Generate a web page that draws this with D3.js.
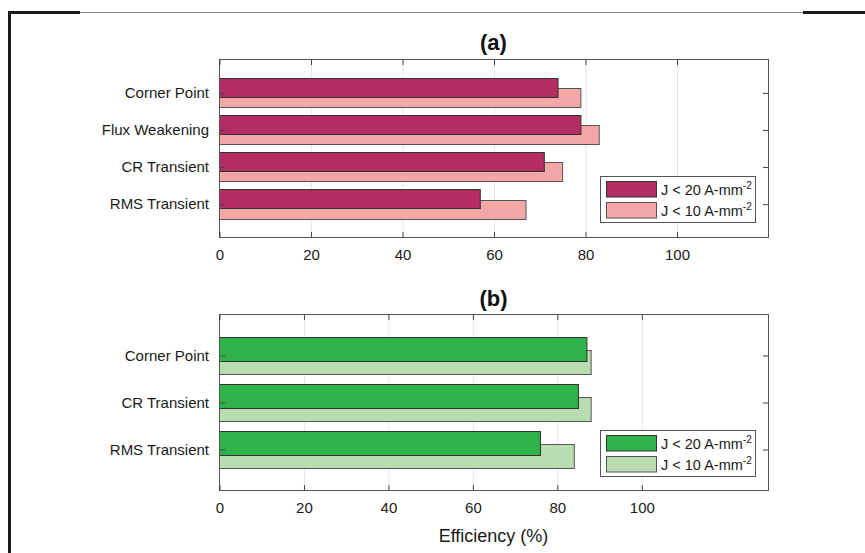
<!DOCTYPE html>
<html>
<head>
<meta charset="utf-8">
<script src="https://cdn.jsdelivr.net/npm/d3@7"></script>
<style>
  html, body { margin: 0; padding: 0; background: #fff; }
  svg { display: block; font-family: "Liberation Sans", Arial, sans-serif; }
</style>
</head>
<body>
<svg id="fig" width="865" height="553"></svg>
<script>
// Panel (a): four operating cases
const categoriesA = ["Corner Point", "Flux Weakening", "CR Transient", "RMS Transient"];
const j20ValuesA = [74, 79, 71, 57];
const j10ValuesA = [79, 83, 75, 67];

// Panel (b): three operating cases
const categoriesB = ["Corner Point", "CR Transient", "RMS Transient"];
const j20ValuesB = [87, 85, 76];
const j10ValuesB = [88, 88, 84];

const xTickValues = [0, 20, 40, 60, 80, 100];
const seriesLabels = ["J < 20 A-mm", "J < 10 A-mm"];
const seriesExponent = "-2";
const panelTitles = ["(a)", "(b)"];
const xAxisTitle = "Efficiency (%)";

const svg = d3.select("#fig");
svg.append("rect").attr("width", 865).attr("height", 553).attr("fill", "#fff");

// page frame lines
const frame = svg.append("g");
frame.append("line").attr("x1", 80).attr("x2", 803).attr("y1", 12.5).attr("y2", 12.5)
  .attr("stroke", "#8a8a8a").attr("stroke-width", 1);
frame.append("line").attr("x1", 8).attr("x2", 80).attr("y1", 12.5).attr("y2", 12.5)
  .attr("stroke", "#1a1a1a").attr("stroke-width", 3);
frame.append("line").attr("x1", 803).attr("x2", 865).attr("y1", 12.5).attr("y2", 12.5)
  .attr("stroke", "#1a1a1a").attr("stroke-width", 3);
frame.append("line").attr("x1", 9.5).attr("x2", 9.5).attr("y1", 11).attr("y2", 553)
  .attr("stroke", "#1a1a1a").attr("stroke-width", 3);

function drawPanel(opts) {
  const { categories, j20, j10, xMax, top, bottom, yPad, title, titleY, colors, legendTop } = opts;
  const left = 219, right = 768;
  const n = categories.length;
  const x = d3.scaleLinear().domain([0, xMax]).range([left, right]);
  const y = d3.scaleLinear().domain([-yPad, n - 1 + yPad]).range([top, bottom]);
  const idx = d3.range(n);
  const g = svg.append("g");
  const h = bottom - top;

  // gridlines
  g.append("g")
    .attr("transform", `translate(0.5,${bottom})`)
    .call(d3.axisBottom(x).tickValues(xTickValues.slice(1)).tickSizeInner(-h).tickSizeOuter(0).tickFormat(""))
    .call(a => a.select(".domain").remove())
    .call(a => a.selectAll("line").attr("stroke", "#e6e6e6"));

  // bars: lower-current series behind, higher-current series in front
  const bh = y(0.5) - y(0);
  const off = 0.14;
  g.append("g").selectAll("rect").data(idx).join("rect")
    .attr("x", x(0) + 0.5)
    .attr("y", i => Math.round(y(i + off) - bh / 2) + 0.5)
    .attr("width", i => x(j10[i]) - x(0))
    .attr("height", Math.round(bh))
    .attr("fill", colors[1]).attr("stroke", "#555").attr("stroke-width", 1);
  g.append("g").selectAll("rect").data(idx).join("rect")
    .attr("x", x(0) + 0.5)
    .attr("y", i => Math.round(y(i - off) - bh / 2) + 0.5)
    .attr("width", i => x(j20[i]) - x(0))
    .attr("height", Math.round(bh))
    .attr("fill", colors[0]).attr("stroke", "#333").attr("stroke-width", 1);

  // axes box
  g.append("rect").attr("x", left + 0.5).attr("y", top + 0.5)
    .attr("width", right - left).attr("height", h)
    .attr("fill", "none").attr("stroke", "#555").attr("stroke-width", 1);

  const axisStyle = a => {
    a.select(".domain").remove();
    a.selectAll("line").attr("stroke", "#444");
    a.selectAll("text").attr("fill", "#1a1a1a").attr("font-size", 15)
      .attr("font-family", "'Liberation Sans', Arial, sans-serif");
  };

  // bottom x axis with labels
  g.append("g").attr("transform", `translate(0.5,${bottom})`)
    .call(d3.axisBottom(x).tickValues(xTickValues).tickSizeInner(-5).tickSizeOuter(0).tickPadding(12))
    .call(axisStyle);
  // top x ticks
  g.append("g").attr("transform", `translate(0.5,${top + 1})`)
    .call(d3.axisTop(x).tickValues(xTickValues).tickSizeInner(-5).tickSizeOuter(0).tickFormat(""))
    .call(axisStyle);
  // left category axis
  g.append("g").attr("transform", `translate(${left + 1},0.5)`)
    .call(d3.axisLeft(y).tickValues(idx).tickFormat(i => categories[i]).tickSizeInner(-5).tickSizeOuter(0).tickPadding(11))
    .call(axisStyle);
  // right ticks
  g.append("g").attr("transform", `translate(${right},0.5)`)
    .call(d3.axisRight(y).tickValues(idx).tickSizeInner(-5).tickSizeOuter(0).tickFormat(""))
    .call(axisStyle);

  // title
  g.append("text").attr("x", (left + right) / 2).attr("y", titleY)
    .attr("text-anchor", "middle").attr("font-size", 22).attr("font-weight", "bold")
    .attr("fill", "#111").text(title);

  // legend
  const lg = g.append("g");
  const lx = 600, lw = 155, lh = 46;
  lg.append("rect").attr("x", lx + 0.5).attr("y", legendTop + 0.5).attr("width", lw).attr("height", lh)
    .attr("fill", "#fff").attr("stroke", "#555");
  colors.forEach((c, k) => {
    const sy = legendTop + 5 + k * 20.5;
    lg.append("rect").attr("x", lx + 6.5).attr("y", Math.round(sy) + 0.5).attr("width", 50).attr("height", 15.5)
      .attr("fill", c).attr("stroke", k === 0 ? "#333" : "#555");
    const t = lg.append("text").attr("x", lx + 61).attr("y", sy + 14)
      .attr("font-size", 14.5).attr("fill", "#1a1a1a");
    t.append("tspan").text(seriesLabels[k]);
    t.append("tspan").attr("font-size", 10).attr("dy", -6).text(seriesExponent);
  });
  return { x, y };
}

drawPanel({
  categories: categoriesA, j20: j20ValuesA, j10: j10ValuesA, xMax: 120,
  top: 59, bottom: 237, yPad: 0.9, title: panelTitles[0], titleY: 50,
  colors: ["#b32d62", "#f4a7a7"], legendTop: 176
});
drawPanel({
  categories: categoriesB, j20: j20ValuesB, j10: j10ValuesB, xMax: 130,
  top: 314, bottom: 490, yPad: 0.87, title: panelTitles[1], titleY: 306,
  colors: ["#2fb24a", "#b9ddb1"], legendTop: 430
});

svg.append("text").attr("x", 493.5).attr("y", 542).attr("text-anchor", "middle")
  .attr("font-size", 18).attr("fill", "#1a1a1a").text(xAxisTitle);
</script>
</body>
</html>
